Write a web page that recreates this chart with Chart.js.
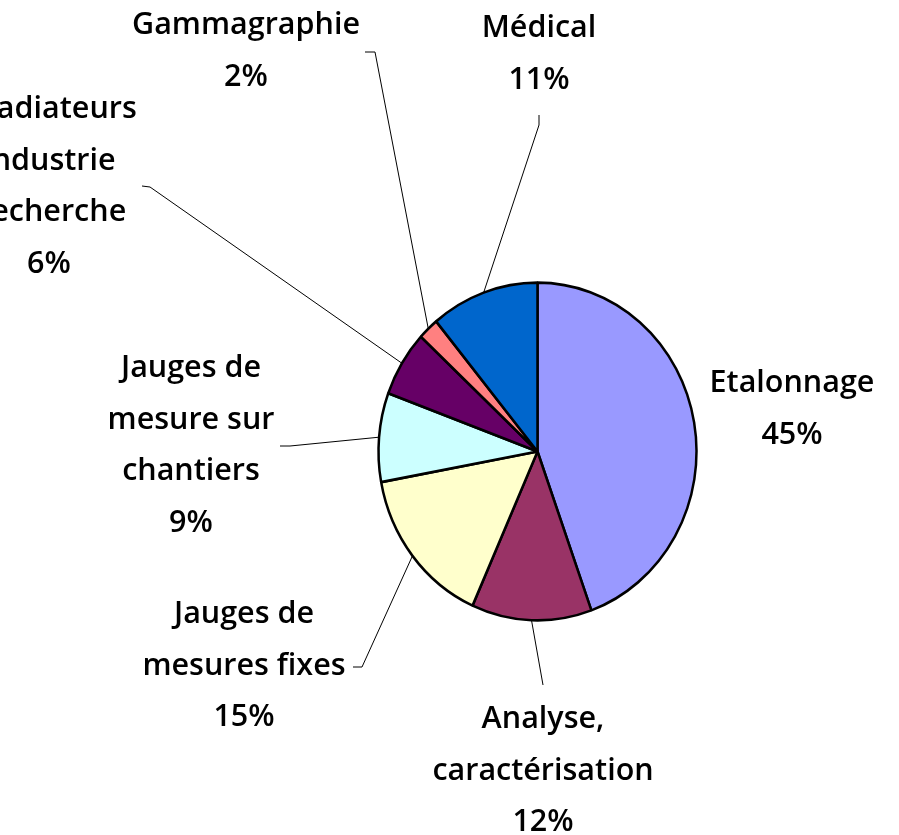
<!DOCTYPE html>
<html lang="fr">
<head>
<meta charset="utf-8">
<title>Répartition des sources par usage</title>
<script src="https://cdn.jsdelivr.net/npm/chart.js@4.4.1/dist/chart.umd.min.js"></script>
<style>
  html, body { margin: 0; padding: 0; background: #fff; overflow: hidden; }
  #wrap { width: 899px; height: 835px; }
</style>
</head>
<body>
<div id="wrap"><canvas id="pie" width="899" height="835"></canvas></div>
<script>
// ---- Data (clockwise from 12 o'clock) ----
const categories = [
  'Etalonnage',
  'Analyse, caractérisation',
  'Jauges de mesures fixes',
  'Jauges de mesure sur chantiers',
  'Irradiateurs Industrie Recherche',
  'Gammagraphie',
  'Médical'
];
const shares = [44.5, 12.2, 15.4, 8.5, 6.3, 2.1, 11.0];
const sliceColors = ['#9999FF', '#993366', '#FFFFCC', '#CCFFFF', '#660066', '#FF8080', '#0066CC'];

// label text as wrapped in the original
const labelLines = [
  ['Etalonnage'],
  ['Analyse,', 'caractérisation'],
  ['Jauges de', 'mesures fixes'],
  ['Jauges de', 'mesure sur', 'chantiers'],
  ['Irradiateurs', 'Industrie', 'Recherche'],
  ['Gammagraphie'],
  ['Médical']
];

// ---- Layout (px) ----
const LABEL_FONT = '600 30.5px "Open Sans", sans-serif';
const LINE_H     = 51.5;
const ELLIPSE_Y  = 1.062;   // pie is a bit taller than wide

// x = text centre, y = first baseline, lead = label end of the leader line
const labelPos = [
  { x: 792, y: 392, lead: null },
  { x: 543, y: 728, lead: [[543, 685]] },
  { x: 244, y: 623, lead: [[353, 667], [362, 667]] },
  { x: 191, y: 377, lead: [[280, 446], [290, 446]] },
  { x: 49,  y: 118, lead: [[142, 186], [150, 187]] },
  { x: 246, y: 34,  lead: [[365, 52], [375, 52]] },
  { x: 539, y: 37,  lead: [[539, 115], [539, 125]] }
];

// stretch the pie vertically around its centre
const stretchPie = {
  id: 'stretchPie',
  beforeDatasetsDraw(chart) {
    const arc = chart.getDatasetMeta(0).data[0];
    const ctx = chart.ctx;
    ctx.save();
    ctx.translate(arc.x, arc.y);
    ctx.scale(1, ELLIPSE_Y);
    ctx.translate(-arc.x, -arc.y);
  },
  afterDatasetsDraw(chart) {
    chart.ctx.restore();
  }
};

// outside labels + leader lines
const sliceLabels = {
  id: 'sliceLabels',
  afterDraw(chart) {
    const ctx   = chart.ctx;
    const meta  = chart.getDatasetMeta(0);
    const total = shares.reduce((a, v) => a + v, 0);

    ctx.save();
    ctx.font = LABEL_FONT;
    ctx.fillStyle = '#000';
    ctx.textAlign = 'center';
    ctx.textBaseline = 'alphabetic';

    meta.data.forEach((arc, i) => {
      const pos   = labelPos[i];
      const lines = [...labelLines[i], Math.round(shares[i] / total * 100) + '%'];
      lines.forEach((t, j) => ctx.fillText(t, pos.x, pos.y + j * LINE_H));

      if (!pos.lead) return;
      const mid = (arc.startAngle + arc.endAngle) / 2;
      const ex  = arc.x + Math.cos(mid) * arc.outerRadius;
      const ey  = arc.y + Math.sin(mid) * arc.outerRadius * ELLIPSE_Y;

      ctx.beginPath();
      ctx.strokeStyle = '#000';
      ctx.lineWidth = 1;
      ctx.moveTo(pos.lead[0][0], pos.lead[0][1]);
      pos.lead.slice(1).forEach(p => ctx.lineTo(p[0], p[1]));
      ctx.lineTo(ex, ey);
      ctx.stroke();
    });
    ctx.restore();
  }
};

const ctx = document.getElementById('pie').getContext('2d');
new Chart(ctx, {
  type: 'pie',
  data: {
    labels: categories,
    datasets: [{
      data: shares,
      backgroundColor: sliceColors,
      borderColor: '#000',
      borderWidth: 2.5
    }]
  },
  options: {
    responsive: false,
    animation: false,
    devicePixelRatio: 1,
    radius: 159,
    layout: { padding: { left: 338, right: 162, top: 250, bottom: 182 } },
    plugins: {
      legend: { display: false },
      tooltip: { enabled: false }
    }
  },
  plugins: [stretchPie, sliceLabels]
});
</script>
</body>
</html>
